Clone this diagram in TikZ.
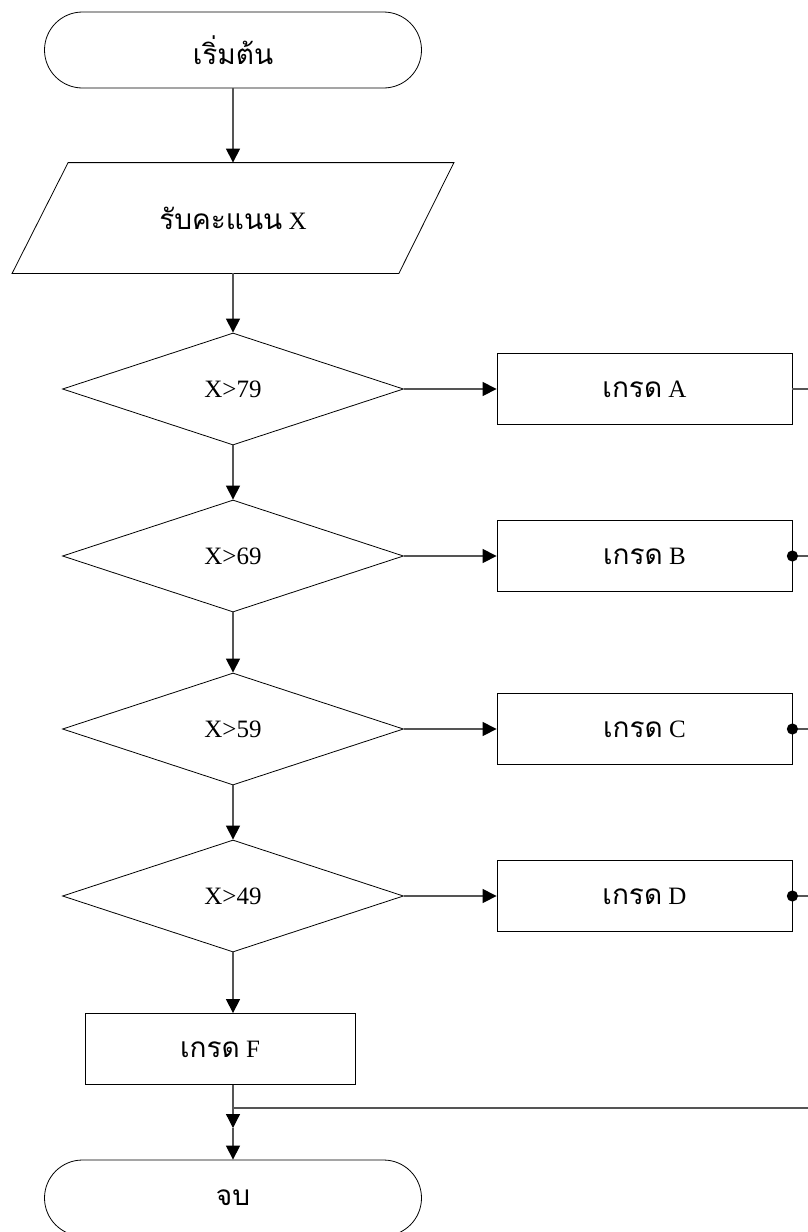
\documentclass[tikz,border=0pt]{standalone}
\usepackage{fontspec}
\setmainfont{Liberation Serif}
\newfontfamily\thaifont[Script=Thai]{Loma}
\definecolor{lineg}{RGB}{85,85,85}
\usetikzlibrary{shapes.geometric,arrows.meta,positioning,calc}
\tikzset{
  term/.style={draw,rounded corners=19pt,minimum width=188.5pt,minimum height=38pt},
  inbox/.style={minimum width=220.5pt,minimum height=55pt},
  test/.style={draw,diamond,aspect=3.04,inner sep=0pt,minimum width=170.5pt,minimum height=56pt},
  grade/.style={draw,minimum width=147.5pt,minimum height=35.5pt},
  flow/.style={lineg,line width=0.6pt,-{Triangle[length=7pt,width=7pt,black]}},
  wire/.style={lineg,line width=0.6pt},
}

\begin{document}
\begin{tikzpicture}[x=0.5pt,y=-0.5pt,font=\fontsize{12.5}{15}\selectfont]
  \path[use as bounding box,clip] (0,0) rectangle (808,1232);
  % start and input
  \node[term] (start) at (233,50) {\thaifont\fontsize{14}{16}\selectfont เริ่มต้น};
  \node[inbox] (input) at (233,218) {{\thaifont\fontsize{14}{16}\selectfont รับคะแนน} X};
  \draw ($(input.north west)+(56,0)$) -- (input.north east)
    -- ($(input.south east)+(-55,0)$) -- (input.south west) -- cycle;
  % tests and grades
  \foreach \n/\y/\v/\g in {1/389/79/A, 2/556/69/B, 3/729/59/C, 4/896/49/D} {
    \node[test] (t\n) at (233,\y) {X>\v};
    \node[grade] (g\n) at (644.5,\y) {{\thaifont\fontsize{14}{16}\selectfont เกรด} \g};
    \draw[flow] (t\n.east) -- (g\n.west);
  }
  \node[grade,minimum width=135pt] (gf) at (220,1049) {{\thaifont\fontsize{14}{16}\selectfont เกรด} F};
  \node[term] (stop) at (233,1198) {\thaifont\fontsize{14}{16}\selectfont จบ};
  % main line
  \draw[flow] (start) -- (input);
  \draw[flow] (input) -- (t1);
  \foreach \a/\b in {1/2,2/3,3/4}
    \draw[flow] (t\a) -- (t\b);
  \draw[flow] (t4.south) -- (t4.south |- gf.north);
  \coordinate (merge) at (233,1108);
  \coordinate (drop) at (233,1128);
  \draw[flow] (t4.south |- gf.south) -- (drop);
  \draw[flow] (drop) -- (stop);
  % back to end
  \coordinate (bus) at (840,389);
  \draw[wire] (g1.east) -- (bus) -- (bus |- merge) -- (merge);
  \foreach \n in {2,3,4} {
    \draw[wire] (g\n.east) -- (bus |- g\n);
    \fill (g\n.east) circle (2.8pt);
  }
\end{tikzpicture}
\end{document}
